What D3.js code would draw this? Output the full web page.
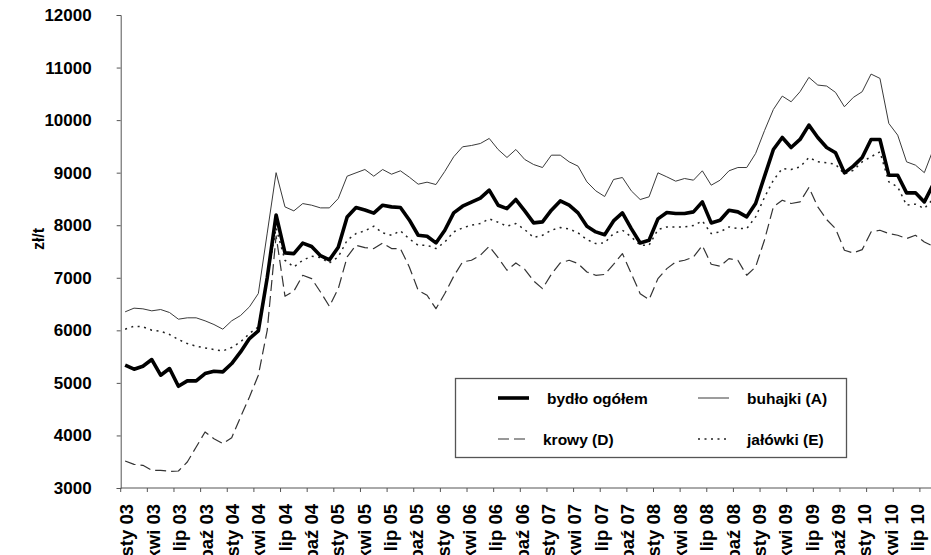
<!DOCTYPE html>
<html>
<head>
<meta charset="utf-8">
<script src="https://cdn.jsdelivr.net/npm/d3@7"></script>
<style>
  html, body { margin: 0; padding: 0; background: #fff; }
  svg { display: block; }
  text { font-family: "Liberation Sans", Arial, sans-serif; font-weight: bold; fill: #000; }
</style>
</head>
<body>
<svg id="chart" width="931" height="555"></svg>
<script>
// ---- data (zł/t), monthly from sty 03 ----
const monthCount = 92;
const bydlo = [5336,5260,5317,5444,5146,5273,4936,5038,5038,5177,5222,5209,
  5368,5590,5844,5990,7000,8194,7473,7460,7660,7595,7420,7340,
  7580,8158,8336,8290,8230,8381,8349,8336,8100,7809,7790,7663,
  7905,8235,8362,8438,8514,8667,8381,8317,8489,8273,8044,8063,
  8286,8463,8381,8235,7981,7873,7820,8082,8235,7936,7663,7714,
  8121,8241,8222,8222,8254,8444,8044,8095,8286,8254,8159,8413,
  8930,9441,9670,9479,9632,9905,9670,9479,9378,8997,9124,9289,
  9632,9632,8952,8952,8616,8616,8444,8780];
const buhajki = [6352,6422,6409,6371,6396,6339,6212,6238,6238,6181,6111,6022,
  6181,6282,6447,6701,7850,9000,8349,8273,8412,8381,8330,8330,
  8508,8933,8997,9060,8933,9060,8971,9035,8915,8781,8819,8774,
  9025,9302,9492,9517,9555,9651,9441,9289,9441,9251,9155,9098,
  9333,9333,9206,9124,8825,8654,8546,8870,8908,8654,8489,8540,
  8997,8920,8838,8889,8857,9035,8762,8857,9035,9098,9098,9365,
  9800,10203,10457,10349,10540,10813,10667,10648,10527,10254,10432,10540,
  10876,10794,9937,9714,9206,9143,9000,9440];
const krowy = [3514,3450,3431,3336,3336,3317,3323,3495,3780,4066,3939,3844,
  3958,4352,4733,5146,6000,7800,6650,6745,7047,6984,6730,6457,
  6793,7396,7619,7574,7555,7663,7555,7555,7206,6762,6667,6412,
  6700,7028,7301,7333,7428,7600,7384,7143,7282,7162,6939,6793,
  7066,7282,7333,7270,7111,7047,7063,7257,7460,7079,6698,6584,
  6984,7174,7301,7333,7396,7612,7257,7219,7365,7333,7047,7206,
  7720,8349,8476,8413,8444,8717,8349,8108,7936,7524,7473,7536,
  7873,7905,7841,7809,7746,7809,7682,7600];
const jalowki = [6022,6079,6066,6003,5984,5920,5825,5749,5698,5666,5634,5609,
  5673,5781,5939,6066,7000,7950,7333,7206,7333,7409,7384,7282,
  7396,7714,7841,7892,7981,7854,7809,7892,7740,7619,7619,7555,
  7680,7873,7949,8000,8032,8120,8057,7981,8032,7917,7765,7809,
  7905,7955,7930,7854,7727,7650,7666,7841,7905,7778,7619,7619,
  7917,7968,7968,7968,7993,8082,7841,7873,7968,7936,7936,8159,
  8530,8857,9079,9060,9111,9289,9206,9187,9162,8971,9047,9206,
  9302,9397,8825,8730,8381,8400,8317,8500];
const tickLabels = ["sty 03","kwi 03","lip 03","paź 03","sty 04","kwi 04","lip 04","paź 04",
  "sty 05","kwi 05","lip 05","paź 05","sty 06","kwi 06","lip 06","paź 06",
  "sty 07","kwi 07","lip 07","paź 07","sty 08","kwi 08","lip 08","paź 08",
  "sty 09","kwi 09","lip 09","paź 09","sty 10","kwi 10","lip 10"];
const yTicks = [3000,4000,5000,6000,7000,8000,9000,10000,11000,12000];
const seriesNames = ["bydło ogółem","buhajki (A)","krowy (D)","jałówki (E)"];

(function () {
// ---- layout ----
const svg = d3.select("#chart");
const plotL = 120.7, monthW = 8.88, plotT = 15, plotB = 488;
const idx = d3.range(monthCount);
const x = d3.scaleBand().domain(idx).range([plotL, plotL + monthCount * monthW]).padding(0);
const cx = i => x(i) + x.bandwidth() / 2;
const y = d3.scaleLinear().domain([3000, 12000]).range([plotB, plotT]);
// label positions along the category axis
const lx = d3.scaleLinear().domain([0, tickLabels.length - 1]).range([127, 917.5]);

const axisColor = "#555";

// y axis
const yAxis = d3.axisLeft(y).tickValues(yTicks).tickSize(4).tickFormat(d3.format("d"));
const gy = svg.append("g").attr("transform", `translate(${plotL},0)`).call(yAxis);
gy.select(".domain").attr("stroke", axisColor).attr("stroke-width", 1);
gy.selectAll(".tick line").attr("stroke", axisColor);
gy.selectAll(".tick text").attr("x", -29).attr("font-size", 17).attr("font-weight", "bold")
  .attr("font-family", "Liberation Sans, Arial, sans-serif").attr("fill", "#000");

// x axis (ticks between categories, every 3 months)
const tickIdx = idx.filter(i => i % 3 === 0 && i < tickLabels.length * 3);
svg.append("line").attr("x1", plotL).attr("x2", 931).attr("y1", plotB).attr("y2", plotB)
  .attr("stroke", axisColor).attr("stroke-width", 1);
svg.append("g").selectAll("line").data(tickIdx).join("line")
  .attr("x1", i => x(i)).attr("x2", i => x(i))
  .attr("y1", plotB).attr("y2", plotB + 4).attr("stroke", axisColor);
svg.append("g").selectAll("text").data(tickLabels).join("text")
  .attr("transform", (d, k) => `translate(${lx(k)},504) rotate(-90)`)
  .attr("text-anchor", "end").attr("dy", "0.35em")
  .attr("font-size", 18.5)
  .text(d => d);

// y title
svg.append("text").attr("transform", "translate(38,239) rotate(-90)")
  .attr("text-anchor", "middle").attr("dy", "0.35em").attr("font-size", 16).text("zł/t");

// series
const styles = [
  { data: bydlo, width: 3.6, color: "#000", dash: null },
  { data: buhajki, width: 1, color: "#3a3a3a", dash: null },
  { data: krowy, width: 1.2, color: "#333", dash: "11,5" },
  { data: jalowki, width: 1.5, color: "#222", dash: "2,4.5" }
];
const line = d3.line().x((d, i) => cx(i)).y(d => y(d));
const plot = svg.append("g");
[1, 2, 3, 0].forEach(k => {
  const s = styles[k];
  plot.append("path").datum(s.data).attr("d", line)
    .attr("fill", "none").attr("stroke", s.color).attr("stroke-width", s.width)
    .attr("stroke-dasharray", s.dash).attr("stroke-linejoin", "round");
});

// legend
const lg = svg.append("g");
lg.append("rect").attr("x", 455.5).attr("y", 378.5).attr("width", 391).attr("height", 79)
  .attr("fill", "#fff").attr("stroke", "#555").attr("stroke-width", 1.3);
const legPos = [[498, 398, 547], [698, 398, 747], [498, 439, 543], [698, 439, 747]];
legPos.forEach((p, k) => {
  const s = styles[k];
  lg.append("line").attr("x1", p[0]).attr("x2", p[0] + 31).attr("y1", p[1]).attr("y2", p[1])
    .attr("stroke", s.color).attr("stroke-width", s.width).attr("stroke-dasharray", s.dash);
  lg.append("text").attr("x", p[2]).attr("y", p[1] + 1).attr("dy", "0.35em")
    .attr("font-size", 15.5).text(seriesNames[k]);
});
})();
</script>
</body>
</html>
